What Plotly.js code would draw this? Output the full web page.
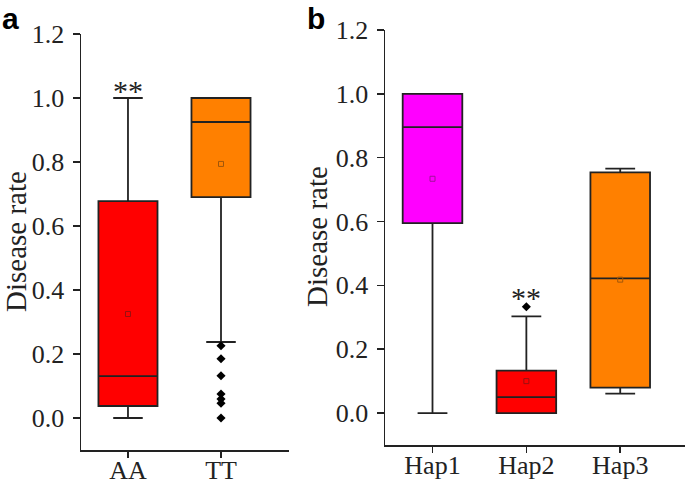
<!DOCTYPE html>
<html>
<head>
<meta charset="utf-8">
<script src="https://cdn.plot.ly/plotly-3.0.1.min.js"></script>
<style>html,body{margin:0;padding:0;background:#fff;}#chart{width:685px;height:484px;}</style>
</head>
<body>
<div id="chart"></div>
<script>
// Panel a: genotype groups
const categoriesA = ['AA', 'TT'];
const q1A = [0.0375, 0.69];
const medianA = [0.131, 0.925];
const q3A = [0.678, 1.0];
const lowerA = [0.0, 0.2375];
const upperA = [1.0, 1.0];
const meanA = [0.325, 0.794];
const outliersTT = [0.226, 0.185, 0.132, 0.075, 0.059, 0.046, 0.0];

// Panel b: haplotypes
const categoriesB = ['Hap1', 'Hap2', 'Hap3'];
const q1B = [0.595, 0.0, 0.080];
const medianB = [0.896, 0.05, 0.422];
const q3B = [1.0, 0.133, 0.754];
const lowerB = [0.0, 0.0, 0.061];
const upperB = [1.0, 0.303, 0.766];
const meanB = [0.734, 0.1, 0.418];
const outliersHap2 = [0.333];

const colorsA = ['#FF0000', '#FF8000'];
const colorsB = ['#FF00FF', '#FF0000', '#FF8000'];
const meanColorsA = ['#9a1010', '#a0560a'];
const meanColorsB = ['#a0109a', '#9a1010', '#a0560a'];

const lineCol = '#222222';
const serif = 'Liberation Serif, Times New Roman, serif';

const traces = [];
function addBoxes(cats, q1, med, q3, lo, hi, cols, xa, ya) {
  cats.forEach((c, i) => {
    traces.push({
      type: 'box', x: [c], q1: [q1[i]], median: [med[i]], q3: [q3[i]],
      lowerfence: [lo[i]], upperfence: [hi[i]],
      fillcolor: cols[i], line: {color: lineCol, width: 1.8},
      width: 0.635, whiskerwidth: 0.5, boxpoints: false,
      xaxis: xa, yaxis: ya, showlegend: false, hoverinfo: 'skip'
    });
  });
}
addBoxes(categoriesA, q1A, medianA, q3A, lowerA, upperA, colorsA, 'x', 'y');
addBoxes(categoriesB, q1B, medianB, q3B, lowerB, upperB, colorsB, 'x2', 'y2');

traces.push({type: 'scatter', mode: 'markers', x: categoriesA, y: meanA, xaxis: 'x', yaxis: 'y',
  marker: {symbol: 'square-open', size: 5, color: meanColorsA, line: {width: 1}}, showlegend: false});
traces.push({type: 'scatter', mode: 'markers', x: categoriesB, y: meanB, xaxis: 'x2', yaxis: 'y2',
  marker: {symbol: 'square-open', size: 5, color: meanColorsB, line: {width: 1}}, showlegend: false});
traces.push({type: 'scatter', mode: 'markers', x: outliersTT.map(() => 'TT'), y: outliersTT, xaxis: 'x', yaxis: 'y',
  marker: {symbol: 'diamond', size: 7, color: '#000'}, showlegend: false});
traces.push({type: 'scatter', mode: 'markers', x: outliersHap2.map(() => 'Hap2'), y: outliersHap2, xaxis: 'x2', yaxis: 'y2',
  marker: {symbol: 'diamond', size: 7, color: '#000'}, showlegend: false});

const W = 685, H = 484;
const yAxisCommon = {
  range: [-0.1, 1.2], tick0: 0, dtick: 0.2, tickformat: '.1f',
  showline: true, linecolor: lineCol, linewidth: 1.5, showgrid: false, zeroline: false,
  ticks: 'outside', ticklen: 7, tickwidth: 1.5, tickcolor: lineCol, ticklabelstandoff: 3,
  tickfont: {family: serif, size: 26, color: '#222'}, fixedrange: true
};
const xAxisCommon = {
  type: 'category', showline: true, linecolor: lineCol, linewidth: 1.5, showgrid: false, zeroline: false,
  ticks: 'outside', ticklen: 6, tickwidth: 1.5, tickcolor: lineCol, ticklabelstandoff: -10,
  tickfont: {family: serif, size: 26, color: '#222'}, fixedrange: true
};

const layout = {
  width: W, height: H, margin: {l: 0, r: 0, t: 0, b: 0},
  paper_bgcolor: '#fff', plot_bgcolor: '#fff', showlegend: false,
  xaxis: Object.assign({}, xAxisCommon, {domain: [81 / W, 289 / W], range: [-0.505, 1.731], anchor: 'y'}),
  yaxis: Object.assign({}, yAxisCommon, {domain: [1 - 450 / H, 1 - 34 / H], anchor: 'x'}),
  xaxis2: Object.assign({}, xAxisCommon, {domain: [385 / W, 1], range: [-0.506, 2.69], anchor: 'y2'}),
  yaxis2: Object.assign({}, yAxisCommon, {domain: [1 - 445 / H, 1 - 30 / H], anchor: 'x2'}),
  annotations: [
    {text: 'a', xref: 'paper', yref: 'paper', x: 0 / W, y: 1 - 0 / H, xanchor: 'left', yanchor: 'top', showarrow: false,
      font: {family: 'Liberation Sans, Arial, sans-serif', size: 30, color: '#000', weight: 'bold'}},
    {text: 'b', xref: 'paper', yref: 'paper', x: 305 / W, y: 1 - 0 / H, xanchor: 'left', yanchor: 'top', showarrow: false,
      font: {family: 'Liberation Sans, Arial, sans-serif', size: 30, color: '#000', weight: 'bold'}},
    {text: 'Disease rate', xref: 'paper', yref: 'paper', x: 0, y: 1 - 242 / H, textangle: -90, showarrow: false,
      xanchor: 'left', yanchor: 'middle', xshift: 0, borderpad: 0, borderwidth: 0, font: {family: serif, size: 29, color: '#222'}},
    {text: 'Disease rate', xref: 'paper', yref: 'paper', x: 317 / W, y: 1 - 237 / H, textangle: -90, showarrow: false,
      xanchor: 'center', yanchor: 'middle', font: {family: serif, size: 29, color: '#222'}},
    {text: '**', xref: 'x', yref: 'y', x: 'AA', y: 0.966, showarrow: false, yanchor: 'bottom',
      font: {family: serif, size: 30, color: '#222'}},
    {text: '**', xref: 'x2', yref: 'y2', x: 'Hap2', y: 0.305, showarrow: false, yanchor: 'bottom',
      font: {family: serif, size: 30, color: '#222'}}
  ]
};

Plotly.newPlot('chart', traces, layout, {staticPlot: true, displayModeBar: false});
</script>
</body>
</html>
